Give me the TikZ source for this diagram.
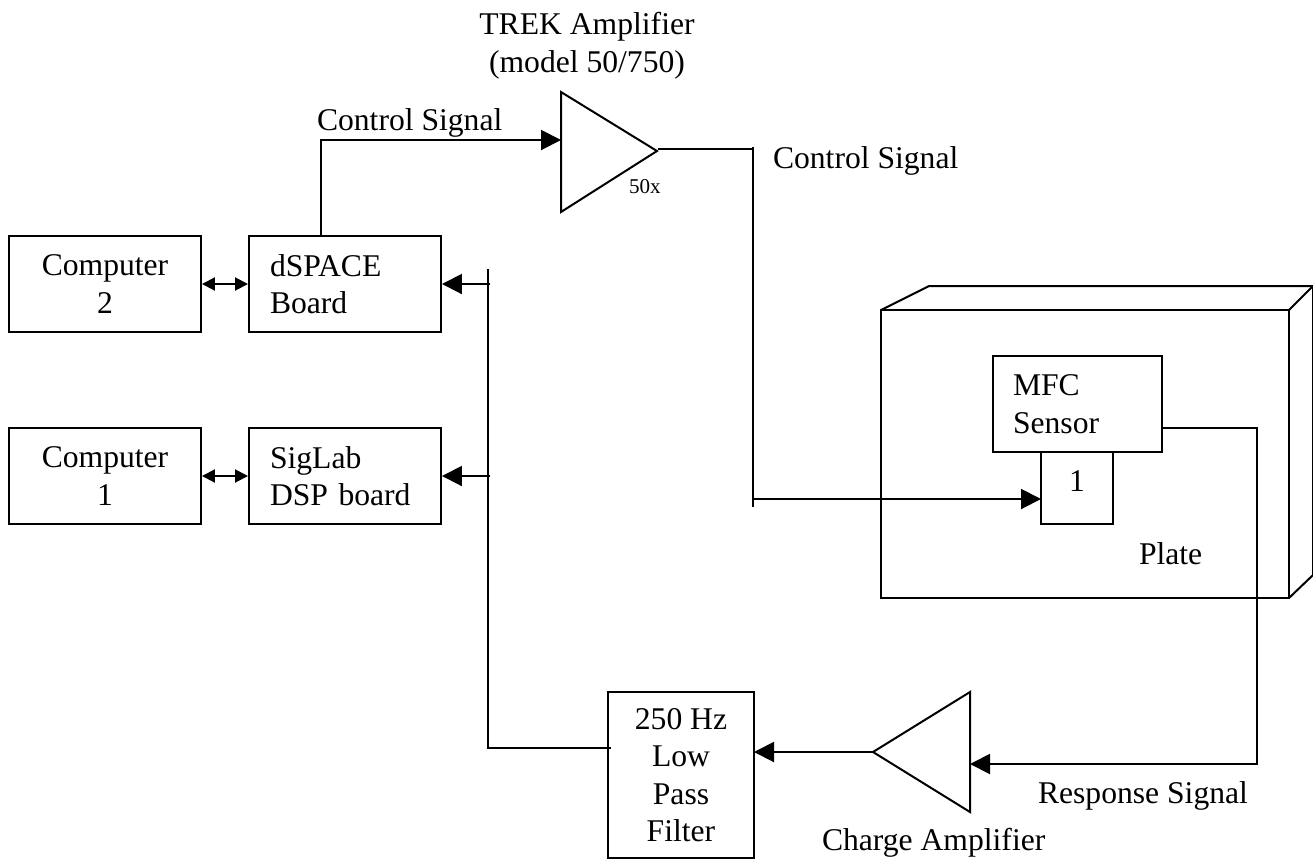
\documentclass[tikz,border=0pt]{standalone}
\usepackage{fontspec}
\setmainfont{Liberation Serif}
\usetikzlibrary{arrows.meta}

\begin{document}
\begin{tikzpicture}[
    x=.02cm, y=-.02cm,
    line width=.04cm,
    font=\fontsize{18}{21.3}\selectfont,
    bigtip/.style={-{Triangle[length=.4cm, width=.4cm]}},
    smalltip/.style={{Triangle[length=.26cm, width=.26cm]}-{Triangle[length=.26cm, width=.26cm]}},
    block/.style={draw, minimum width=3.84cm, minimum height=1.92cm, inner sep=0pt},
    leftblock/.style={block, text width=3cm, align=left},
    label/.style={inner sep=0pt, anchor=base west},
]
    \useasboundingbox (0, 0) rectangle (1313, 860);

    %% the computers and their boards
    \node[block, align=center] (comptwo) at (105, 284) {Computer\\2};
    \node[block, align=center] (compone) at (105, 476) {Computer\\1};
    \node[leftblock] (dspace) at (345, 284) {dSPACE\\Board};
    \node[leftblock] (siglab) at (345, 476) {SigLab\\DSP board};
    \draw[smalltip] (comptwo) -- (dspace);
    \draw[smalltip] (compone) -- (siglab);

    %% the TREK amplifier
    \coordinate (trektop) at (561, 92);
    \coordinate (trekbot) at (561, 212);
    \coordinate (trektip) at (657, 151);
    \coordinate (trekin) at (561, 140);
    \draw (trektop) -- (trektip) -- (trekbot) -- cycle;
    \node[inner sep=0pt, align=center, anchor=base] (trek) at (587, 72)
        {TREK Amplifier\\(model 50/750)};
    \node[label, font=\fontsize{12}{14}\selectfont] (gain) at (628, 193) {50x};
    \draw[bigtip] (dspace.north -| 321, 0) -- (321, 140) -- (trekin);
    \node[label] (ctlone) at (316, 130) {Control Signal};

    %% the plate, in three dimensions
    \draw (881, 310) rectangle (1289, 598);
    \draw (881, 310) -- (929, 286) -- (1313, 286) -- (1313, 575) -- (1289, 598);
    \draw (1289, 310) -- (1313, 286);
    \node[label] (plate) at (1138, 564) {Plate};

    %% the sensor on the plate
    \node[draw, minimum width=3.38cm, minimum height=1.92cm, inner sep=0pt,
        text width=2.58cm, align=left] (mfc) at (1077.5, 404) {MFC\\Sensor};
    \node[draw, minimum width=1.44cm, minimum height=1.44cm, inner sep=0pt,
        text depth=.26cm] (patch) at (1077, 488) {1};

    %% the control signal to the patch
    \coordinate (ctlout) at (658, 149);
    \coordinate (ctlcorner) at (753, 149);
    \coordinate (ctltop) at (753, 147);
    \coordinate (ctlend) at (753, 507);
    \coordinate (ctlbranch) at (753, 499);
    \coordinate (patchin) at (1041, 499);
    \draw (ctlout) -- (ctlcorner);
    \draw (ctltop) -- (ctlend);
    \draw[bigtip] (ctlbranch) -- (patchin);
    \node[label] (ctltwo) at (772, 168) {Control Signal};

    %% the response signal and the charge amplifier
    \coordinate (mfcout) at (1162, 428);
    \coordinate (chargetop) at (970, 692);
    \coordinate (chargebot) at (970, 812);
    \coordinate (chargetip) at (873, 752);
    \coordinate (chargein) at (970, 764);
    \draw (chargetop) -- (chargetip) -- (chargebot) -- cycle;
    \draw[bigtip] (mfcout) -- (1257, 428) -- (1257, 764) -- (chargein);
    \node[label] (response) at (1037, 803) {Response Signal};
    \node[label] (charge) at (821, 850) {Charge Amplifier};

    %% the filter and the line back to the boards
    \node[draw, minimum width=2.92cm, minimum height=3.32cm, inner sep=0pt,
        align=center] (filter) at (681, 775) {250 Hz\\Low\\Pass\\Filter};
    \coordinate (filterin) at (754, 752);
    \coordinate (filterout) at (611, 748);
    \coordinate (backcorner) at (489, 748);
    \coordinate (backtop) at (488, 269);
    \draw[bigtip] (chargetip) -- (filterin);
    \draw (filterout) -- (backcorner);
    \draw (backtop) -- (488, 749);
    \draw[bigtip] (490, 284) -- (dspace);
    \draw[bigtip] (490, 476) -- (siglab);
\end{tikzpicture}
\end{document}
